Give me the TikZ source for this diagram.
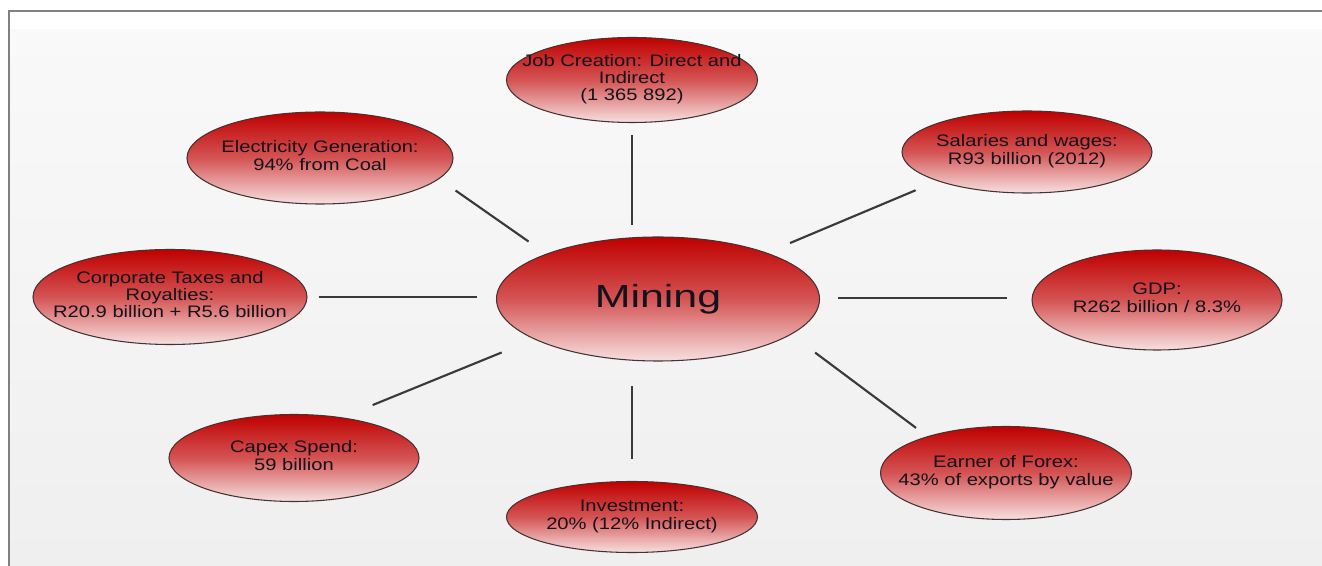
\documentclass[tikz,border=0pt]{standalone}
\usepackage{fontspec}
\setmainfont{Liberation Sans}[FakeStretch=1.21]
\newfontfamily\minefont{Liberation Sans}[FakeStretch=1.34]
\usetikzlibrary{shapes.geometric}
\definecolor{redtop}{RGB}{192,0,0}
\definecolor{redmid}{RGB}{212,84,84}
\definecolor{redbot}{RGB}{247,224,224}
\definecolor{edgecol}{RGB}{70,50,50}
\definecolor{txtcol}{RGB}{20,18,28}
\definecolor{linecol}{RGB}{58,58,58}
\definecolor{framecol}{RGB}{128,128,128}
\definecolor{bgtop}{RGB}{249,249,249}
\definecolor{bgbot}{RGB}{239,239,239}
\newcommand\zwtext[1]{\makebox[0pt]{\begin{tabular}{@{}c@{}}#1\end{tabular}}}
\begin{document}
\begin{tikzpicture}[x=0.75pt,y=-0.75pt,
  bubble/.style={ellipse, draw=edgecol, line width=0.8pt,
    top color=redtop, bottom color=redbot, middle color=redmid,
    inner sep=0pt, text=txtcol, font=\fontsize{12.5}{12.8}\selectfont},
  conn/.style={draw=linecol, line width=1.6pt}]
\useasboundingbox (0,0) rectangle (1322,566);
\fill[white] (0,0) rectangle (1322,566);
\fill[white] (9,11) rectangle (1322,30);
\shade[top color=bgtop, bottom color=bgbot] (9,30) rectangle (1322,566);
\draw[framecol, line width=0.8pt] (1322,11) -- (9,11) -- (9,566);

\node[bubble, minimum width=242.25pt, minimum height=93pt] (mining) at (658,299)
  {\makebox[0pt]{\minefont\fontsize{24}{24}\selectfont Mining}};
\node[bubble, minimum width=188.25pt, minimum height=63.75pt] (job) at (632,80)
  {\zwtext{Job Creation: Direct and\\Indirect\\(1 365 892)}};
\node[bubble, minimum width=199.5pt, minimum height=69pt] (elec) at (320,158)
  {\zwtext{Electricity Generation:\\94\% from Coal}};
\node[bubble, minimum width=187.5pt, minimum height=61.5pt] (sal) at (1027,152)
  {\zwtext{Salaries and wages:\\R93 billion (2012)}};
\node[bubble, minimum width=205.5pt, minimum height=71.25pt] (corp) at (170,297)
  {\zwtext{Corporate Taxes and\\Royalties:\\R20.9 billion + R5.6 billion}};
\node[bubble, minimum width=187.5pt, minimum height=75pt] (gdp) at (1157,300)
  {\zwtext{GDP:\\R262 billion / 8.3\%}};
\node[bubble, minimum width=187.5pt, minimum height=65.25pt] (capex) at (294,458)
  {\zwtext{Capex Spend:\\59 billion}};
\node[bubble, minimum width=188.25pt, minimum height=53.25pt] (inv) at (632,517)
  {\zwtext{Investment:\\20\% (12\% Indirect)}};
\node[bubble, minimum width=188.25pt, minimum height=69.75pt] (forex) at (1006,473)
  {\zwtext{Earner of Forex:\\43\% of exports by value}};

\draw[conn, shorten <=9pt, shorten >=8.25pt] (job.south) -- (job.south |- mining.north);
\draw[conn, shorten <=16.5pt, shorten >=18pt] (inv.north) -- (inv.north |- mining.south);
\draw[conn, shorten <=8.25pt, shorten >=14.25pt] (corp.east) -- (corp.east -| mining.west);
\draw[conn, shorten <=18pt, shorten >=13.5pt] ([yshift=1.5pt]gdp.west) -- ([yshift=1.5pt]gdp.west -| mining.east);
\draw[conn, shorten <=15pt, shorten >=16pt] (elec.-10) -- (mining.158);
\draw[conn, shorten <=17.7pt, shorten >=18.75pt] (sal.-162) -- (mining.23.5);
\draw[conn, shorten <=24.5pt, shorten >=26.25pt] (capex.40) -- (mining.-162);
\draw[conn, shorten <=10.5pt, shorten >=22.5pt] (forex.155) -- (mining.-15);
\end{tikzpicture}
\end{document}
